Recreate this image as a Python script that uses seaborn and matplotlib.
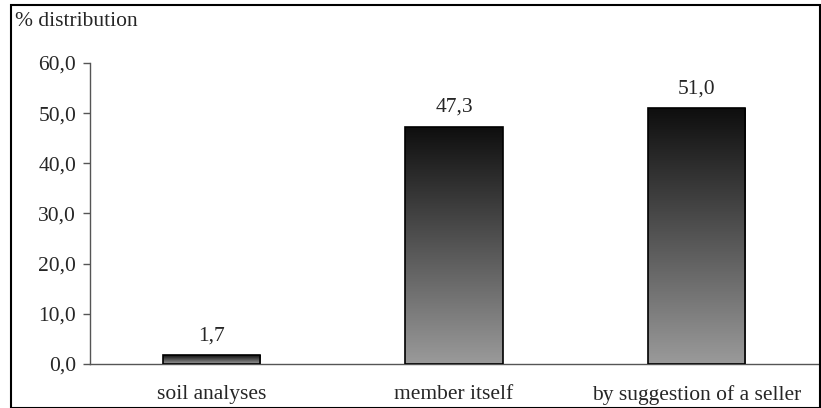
import numpy as np
import pandas as pd
import seaborn as sns
import matplotlib
matplotlib.use("Agg")
import matplotlib.pyplot as plt
from matplotlib.patches import Rectangle
from matplotlib.colors import LinearSegmentedColormap

categories = ["soil analyses", "member itself", "by suggestion of a seller"]
values = [1.7, 47.3, 51.0]
yticks = [0, 10, 20, 30, 40, 50, 60]

sns.set_style("white")
plt.rcParams['font.family'] = ['Liberation Serif', 'DejaVu Serif']
FS = 15.5

df = pd.DataFrame({"cat": categories, "val": values})

fig = plt.figure(figsize=(8.21, 4.08), dpi=100)
ax = fig.add_axes([90/821, 44/408, 728/821, 301/408])

sns.barplot(data=df, x="cat", y="val", ax=ax, width=0.40, color="#888888",
            edgecolor="black", linewidth=1.2, saturation=1)

cmap = LinearSegmentedColormap.from_list("g", ["#9a9a9a", "#0e0e0e"])
grad = np.linspace(0, 1, 256).reshape(-1, 1)
for p in ax.patches:
    x0, y0 = p.get_x(), p.get_y()
    w, h = p.get_width(), p.get_height()
    im = ax.imshow(grad, cmap=cmap, aspect="auto", origin="lower",
                   extent=[x0, x0 + w, y0, y0 + h], zorder=p.get_zorder() - 0.1,
                   interpolation="bilinear")
    im.set_clip_path(p)
    p.set_facecolor("none")
    p.set_zorder(3)

for i, v in enumerate(values):
    ax.text(i, v + 2.0, f"{v:.1f}".replace(".", ","), ha="center", va="bottom",
            fontsize=FS)

ax.set_xlim(-0.5, 2.5)
ax.set_ylim(0, 60)
ax.set_yticks(yticks)
ax.set_yticklabels([f"{t:.1f}".replace(".", ",") for t in yticks], fontsize=FS)
ax.set_xticks(range(3))
ax.set_xticklabels(categories, fontsize=FS)
ax.tick_params(axis="x", which="major", length=0, pad=15)
ax.set_xticks([-0.5, 0.5, 1.5, 2.5], minor=True)
ax.tick_params(axis="x", which="minor", length=5, width=1, color="#555555", direction="out")
ax.tick_params(axis="y", length=5, width=1, color="#555555", direction="out", left=True, pad=5)
ax.set_xlabel("")
ax.set_ylabel("")
for s in ["top", "right"]:
    ax.spines[s].set_visible(False)
for s in ["left", "bottom"]:
    ax.spines[s].set_color("#555555")
    ax.spines[s].set_linewidth(1)

fig.text(15/821, 1 - 22/408, "% distribution", fontsize=FS, ha="left", va="center")
fig.patches.append(Rectangle((11/821, 0.0), 809/821, 403/408, transform=fig.transFigure,
                             fill=False, edgecolor="black", linewidth=1.5))

fig.savefig("out.png", dpi=100)
